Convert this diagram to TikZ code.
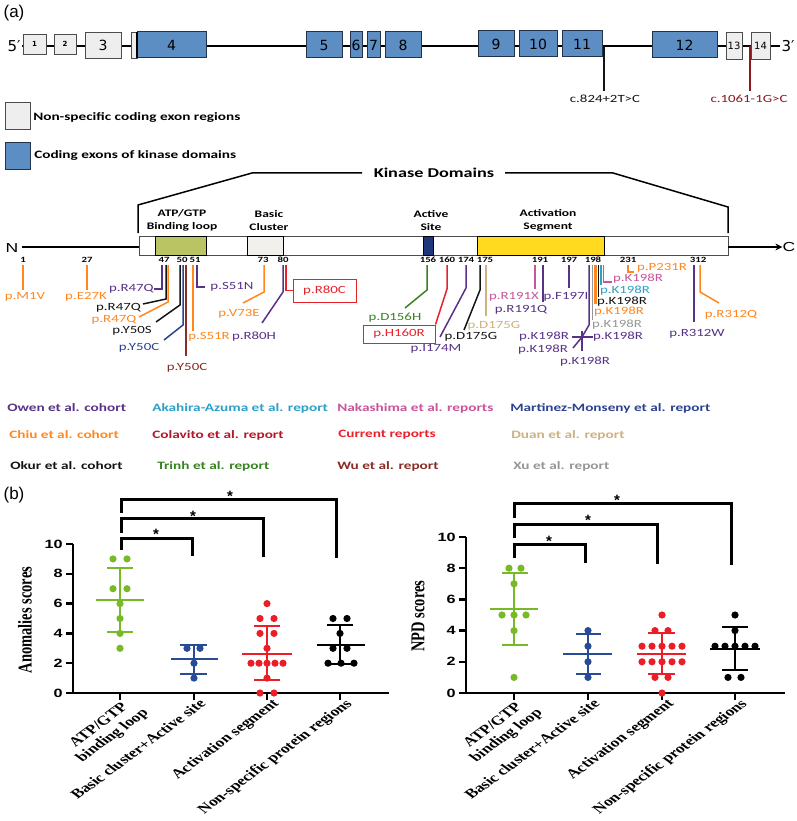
\documentclass[tikz,border=0pt]{standalone}
\usepackage{fontspec}
\setmainfont{Liberation Serif}
\newfontfamily\fCal{Carlito}
\newfontfamily\fArl{Liberation Sans}
\newfontfamily\fTms{Liberation Serif}
\newfontfamily\fDvs{DejaVu Sans}
\usetikzlibrary{arrows.meta}
\definecolor{cOwen}{RGB}{88,50,135}
\definecolor{cChiu}{RGB}{255,135,30}
\definecolor{cOkur}{RGB}{20,20,20}
\definecolor{cAka}{RGB}{45,160,200}
\definecolor{cCol}{RGB}{180,22,40}
\definecolor{cTri}{RGB}{55,130,35}
\definecolor{cNak}{RGB}{200,85,155}
\definecolor{cCur}{RGB}{232,33,43}
\definecolor{cWu}{RGB}{135,45,35}
\definecolor{cMar}{RGB}{44,66,145}
\definecolor{cDuan}{RGB}{205,178,125}
\definecolor{cXu}{RGB}{150,150,150}
\definecolor{cSplice}{RGB}{140,25,30}
\definecolor{exBlue}{RGB}{92,142,196}
\definecolor{exEdge}{RGB}{35,50,75}
\definecolor{exGray}{RGB}{238,238,238}
\definecolor{atpG}{RGB}{186,196,98}
\definecolor{actY}{RGB}{255,218,30}
\definecolor{actN}{RGB}{30,55,120}
\definecolor{basW}{RGB}{242,240,236}
\definecolor{pG}{RGB}{120,185,40}
\definecolor{pB}{RGB}{40,75,150}
\definecolor{pR}{RGB}{235,30,40}
\tikzset{
  sx/.style={xscale=1.35},
  exon/.style={draw=exEdge, fill=exBlue, line width=1pt, inner sep=0pt, minimum height=26pt, font=\fDvs\fontsize{14}{14}\selectfont},
  gexon/.style={draw=black!70, fill=exGray, line width=0.8pt, inner sep=0pt},
  mut/.style={font=\fCal\fontsize{11}{12}\selectfont, inner sep=0pt, sx},
  pnum/.style={font=\fCal\bfseries\fontsize{8}{9}\selectfont, inner sep=0pt, sx},
  ml/.style={line width=1.5pt},
  legt/.style={font=\fCal\bfseries\fontsize{11.3}{13}\selectfont, inner sep=0pt, anchor=west, sx},
  dom/.style={font=\fCal\bfseries\fontsize{10}{12.5}\selectfont, align=center, inner sep=0pt, sx},
  ticklab/.style={font=\fArl\bfseries\fontsize{12}{14}\selectfont, inner sep=0pt, anchor=east, sx},
  xlab/.style={font=\fTms\bfseries\fontsize{13}{14.5}\selectfont, inner sep=0.5pt, anchor=north east, align=center, sx, rotate=45},
  ylab/.style={font=\fTms\bfseries\fontsize{14.5}{16}\selectfont, inner sep=0pt, sx, rotate=90},
  brk/.style={line width=3pt},
  ax/.style={line width=2.8pt},
  starlab/.style={font=\fArl\bfseries\fontsize{15}{15}\selectfont, inner sep=0pt},
  pdot/.style={radius=3.6pt},
  ebar/.style={line width=2pt},
  panel/.style={font=\fArl\fontsize{17}{17}\selectfont, inner sep=0pt},
}
\begin{document}
\begin{tikzpicture}[x=1pt,y=-1pt]
\useasboundingbox (0,0) rectangle (796,821);
\fill[white] (0,0) rectangle (796,821);

% ---------- panel (a): gene ----------
\node[panel] (pa) at (14,13) {(a)};
\draw[line width=1.4pt] (22,46) -- (780,46);
\node[font=\fDvs\fontsize{15}{15}\selectfont, inner sep=0pt] (p5) at (14,46) {5′};
\node[font=\fDvs\fontsize{15}{15}\selectfont, inner sep=0pt] (p3) at (788,46) {3′};
\node[gexon, minimum width=23pt, minimum height=20pt, font=\fDvs\bfseries\fontsize{7}{7}\selectfont] (e1) at (34.5,44) {1};
\node[gexon, minimum width=22pt, minimum height=20pt, font=\fDvs\bfseries\fontsize{7}{7}\selectfont] (e2) at (65,44) {2};
\node[gexon, minimum width=36pt, minimum height=26pt, font=\fDvs\fontsize{14}{14}\selectfont] (e3) at (103,45) {3};
\node[gexon, minimum width=6pt, minimum height=26pt] (e4a) at (134,45) {};
\node[exon, minimum width=69pt] (e4) at (171.5,45) {4};
\draw[line width=2pt, black] (137,32) -- (137,58);
\node[exon, minimum width=36pt] (e5) at (324,45) {5};
\node[exon, minimum width=12pt] (e6) at (356,45) {6};
\node[exon, minimum width=13pt] (e7) at (373.5,45) {7};
\node[exon, minimum width=36pt] (e8) at (403,45) {8};
\node[exon, minimum width=36pt] (e9) at (496,44) {9};
\node[exon, minimum width=38pt] (e10) at (538,44) {10};
\node[exon, minimum width=40pt] (e11) at (582,44) {11};
\node[exon, minimum width=65pt] (e12) at (684.5,45) {12};
\node[gexon, minimum width=16pt, minimum height=27pt, font=\fDvs\fontsize{10}{10}\selectfont] (e13) at (734,45.5) {13};
\node[gexon, minimum width=19pt, minimum height=27pt, font=\fDvs\fontsize{10}{10}\selectfont] (e14) at (760.5,45.5) {14};
\node[mut, cOkur] (s1) at (605,99) {c.824+2T>C};
\node[mut, cSplice] (s2) at (749,99) {c.1061-1G>C};
\draw[line width=1.8pt, cOkur] (604,46) -- (604,91);
\draw[line width=1.8pt, cSplice] (750,46) -- (750,91);

% legend of exons
\node[gexon, minimum width=25pt, minimum height=27pt] (lg1) at (17.5,115.5) {};
\node[legt] (lg1t) at (33,117) {Non-specific coding exon regions};
\node[draw=exEdge, fill=exBlue, line width=1pt, minimum width=25pt, minimum height=27pt, inner sep=0pt] (lg2) at (17.5,156.5) {};
\node[legt] (lg2t) at (34,155) {Coding exons of kinase domains};

% ---------- protein ----------
\node[font=\fCal\bfseries\fontsize{13.5}{14}\selectfont, inner sep=0pt, sx] (kd) at (434,173) {Kinase Domains};
\draw[line width=1.5pt] (138,233) -- (138,205) -- (252,173) -- (362,173);
\draw[line width=1.5pt] (505,173) -- (613,173) -- (728,207) -- (728,233);
\node[font=\fArl\fontsize{13}{13}\selectfont, inner sep=0pt, sx] (nN) at (12,248) {N};
\draw[line width=1.5pt] (22,247) -- (139,247);
\draw[line width=0.8pt, draw=black!70, fill=white] (139,236) rectangle (728,255);
\draw[line width=1pt, fill=atpG] (155,236) rectangle (206,255);
\draw[line width=1pt, fill=basW] (247,236) rectangle (283,255);
\draw[line width=1pt, fill=actN] (423,236) rectangle (433,255);
\draw[line width=1pt, fill=actY] (477,236) rectangle (604,255);
\node[font=\fArl\fontsize{13}{13}\selectfont, inner sep=0pt, sx] (nC) at (789,247) {C};
\draw[line width=1.5pt, -{Stealth[length=7pt,width=7pt]}] (728,247) -- (nC.west);
\node[dom] (dA) at (182,220.5) {ATP/GTP\\Binding loop};
\node[dom] (dB) at (269,220.5) {Basic\\Cluster};
\node[dom] (dC) at (431,220.5) {Active\\Site};
\node[dom] (dD) at (548,220.5) {Activation\\Segment};
\foreach \p/\x in {1/23, 27/87, 47/164, 50/182, 51/195, 73/263, 80/283, 156/428, 160/447, 174/466, 175/485, 191/540, 197/569, 198/593, 231/628, 312/698}
  \node[pnum] (n\p) at (\x,259.5) {\p};

% mutations
\node[mut, cChiu] (m1) at (25,297) {p.M1V};
\draw[ml,cChiu] (23,265) -- (23,290);
\node[mut, cChiu] (m2) at (86,297) {p.E27K};
\draw[ml,cChiu] (87,265) -- (87,290);
\node[mut, cOwen, anchor=east] (m3) at (154,289) {p.R47Q};
\draw[ml,cOwen] (162,265) -- (162,289) -- (m3.east);
\node[mut, cOkur] (m4) at (118.5,308) {p.R47Q};
\draw[ml,cOkur] (166,265) -- (166,299) -- (143,304);
\node[mut, cChiu] (m5) at (114,320) {p.R47Q};
\draw[ml,cChiu] (168,265) -- (168,302) -- (139,317);
\node[mut, cOkur] (m6) at (132,331) {p.Y50S};
\draw[ml,cOkur] (180,265) -- (180,305) -- (156,322);
\node[mut, cMar] (m7) at (139,348) {p.Y50C};
\draw[ml,cMar] (183,265) -- (183,325) -- (164,340);
\node[mut, cWu] (m8) at (187,368) {p.Y50C};
\draw[ml,cWu] (186,265) -- (186,356);
\node[mut, cChiu] (m9) at (209,337) {p.S51R};
\draw[ml,cChiu] (193,265) -- (193,331);
\node[mut, cOwen] (m10) at (232,287) {p.S51N};
\draw[ml,cOwen] (197,265) -- (197,287) -- (205,287);
\node[mut, cChiu] (m11) at (239,314) {p.V73E};
\draw[ml,cChiu] (264,265) -- (264,292) -- (243,303);
\node[mut, cOwen] (m12) at (254,337) {p.R80H};
\draw[ml,cOwen] (283,265) -- (283,292) -- (262,323);
\node[draw=cCur, line width=1pt, minimum width=63pt, minimum height=23pt, inner sep=0pt] (b80) at (324.5,290.5) {};
\node[mut, cCur] (m13) at (b80.center) {p.R80C};
\draw[ml,cCur] (286,265) -- (286,290.5) -- (b80.west);
\node[mut, cTri] (m14) at (395,318) {p.D156H};
\draw[ml,cTri] (427,265) -- (427,290) -- (405,308);
\node[draw=cCur, line width=1pt, minimum width=72pt, minimum height=18pt, inner sep=0pt] (b160) at (399,334) {};
\node[mut, cCur] (m15) at (b160.center) {p.H160R};
\draw[ml,cCur] (447,265) -- (447,289) -- (b160.north east);
\node[mut, cOwen] (m16) at (436,349) {p.I174M};
\draw[ml,cOwen] (466,265) -- (466,288) -- (440,337);
\node[mut, cOkur] (m17) at (471,337) {p.D175G};
\draw[ml,cOkur] (480,265) -- (480,290) -- (464,330);
\node[mut, cDuan] (m18) at (494,326) {p.D175G};
\draw[ml,cDuan] (486,265) -- (486,316);
\node[mut, cNak] (m19) at (514,297) {p.R191X};
\draw[ml,cNak] (535,265) -- (535,289);
\node[mut, cOwen] (m20) at (521,310) {p.R191Q};
\draw[ml,cOwen] (543,265) -- (543,302);
\node[mut, cOwen] (m21) at (566,297) {p.F197I};
\draw[ml,cOwen] (569,265) -- (569,288);
\coordinate (kx) at (582,337);
\node[mut, cOwen] (m22) at (544,337) {p.K198R};
\node[mut, cOwen] (m23) at (618,337) {p.K198R};
\node[mut, cOwen] (m24) at (543,350) {p.K198R};
\node[mut, cOwen] (m25) at (585,362) {p.K198R};
\draw[ml,cOwen] (589,265) -- (589,325) -- (kx);
\draw[ml,cOwen] (572,337) -- (593,337);
\draw[ml,cOwen] (582,331) -- (582,351);
\draw[ml,cOwen] (kx) -- (573,348);
\node[mut, cXu] (m26) at (617,325) {p.K198R};
\draw[ml,cXu] (592.5,265) -- (592.5,320);
\node[mut, cChiu] (m27) at (619,312) {p.K198R};
\draw[cChiu, line width=2.2pt] (595.5,265) -- (595.5,304);
\node[mut, cOkur] (m28) at (622,302) {p.K198R};
\draw[ml,cOkur] (598.5,265) -- (598.5,297);
\node[mut, cAka] (m29) at (625,291) {p.K198R};
\draw[ml,cAka] (601,265) -- (601,285);
\node[mut, cNak] (m30) at (638,279) {p.K198R};
\draw[ml,cNak] (603.5,265) -- (603.5,282) -- (612,282);
\node[mut, cChiu] (m31) at (662,268) {p.P231R};
\draw[ml,cChiu] (628,265) -- (628,272) -- (634,272);
\node[mut, cOwen] (m32) at (697,334) {p.R312W};
\draw[ml,cOwen] (694,265) -- (694,322);
\node[mut, cChiu] (m33) at (731,315) {p.R312Q};
\draw[ml,cChiu] (700,265) -- (700,292) -- (719,303);

% cohort legend
\node[legt, cOwen] (l1) at (7,408) {Owen et al. cohort};
\node[legt, cAka] (l2) at (152,408) {Akahira-Azuma et al. report};
\node[legt, cNak] (l3) at (337,408) {Nakashima et al. reports};
\node[legt, cMar] (l4) at (510,408) {Martinez-Monseny et al. report};
\node[legt, cChiu] (l5) at (9,435) {Chiu et al. cohort};
\node[legt, cCol] (l6) at (152,435) {Colavito et al. report};
\node[legt, cCur] (l7) at (338,435) {Current reports};
\node[legt, cDuan] (l8) at (511,435) {Duan et al. report};
\node[legt, cOkur] (l9) at (10,466) {Okur et al. cohort};
\node[legt, cTri] (l10) at (157,466) {Trinh et al. report};
\node[legt, cWu] (l11) at (337,466) {Wu et al. report};
\node[legt, cXu] (l12) at (513,466) {Xu et al. report};

% ---------- panel (b) ----------
\node[panel] (pb) at (14,495) {(b)};

% left plot
\begin{scope}[shift={(0,693)}, y=14.9pt]
  \foreach \v in {0,2,...,10} {
    \draw[line width=2.5pt] (66,\v) -- (73,\v);
    \node[ticklab] (lt\v) at (63,\v) {\v};
  }
  \foreach \x in {120,194,267,340} \draw[line width=2.5pt] (\x,0) -- (\x,-0.5);
  \draw[ax] (73,10) -- (73,0) -- (389,0);
  % green
  \foreach \x/\v in {113/9,127/9,113/7,127/7,120/6,120/5,120/4,120/3} \fill[pG] (\x,\v) circle[pdot];
  \draw[pG, ebar] (96,6.25) -- (144,6.25) (107,8.4) -- (133,8.4) (107,4.1) -- (133,4.1) (120,4.1) -- (120,8.4);
  % blue
  \foreach \x/\v in {187/3,200/3,194/2,194/1} \fill[pB] (\x,\v) circle[pdot];
  \draw[pB, ebar] (171,2.25) -- (218,2.25) (180,3.2) -- (207,3.2) (180,1.3) -- (207,1.3) (194,1.3) -- (194,3.2);
  % red
  \foreach \x/\v in {267/6,260/5,274/5,260/4,274/4,267/3,251/2,259/2,267/2,275/2,283/2,267/1,260/0,274/0} \fill[pR] (\x,\v) circle[pdot];
  \draw[pR, ebar] (242,2.65) -- (292,2.65) (254,4.5) -- (280,4.5) (254,0.85) -- (280,0.85) (267,0.85) -- (267,4.5);
  % black
  \foreach \x/\v in {333/5,347/5,340/4,333/3,347/3,328/2,341/2,354/2} \fill[black] (\x,\v) circle[pdot];
  \draw[black, ebar] (317,3.25) -- (365,3.25) (327,4.55) -- (353,4.55) (327,1.95) -- (353,1.95) (340,1.95) -- (340,4.55);
\end{scope}
\node[ylab] (ly1) at (25,620) {Anomalies scores};
\node[xlab] (lx1) at (127,696) {ATP/GTP\\binding loop};
\node[xlab] (lx2) at (198,697) {Basic cluster+Active site};
\node[xlab] (lx3) at (271,697) {Activation segment};
\node[xlab] (lx4) at (344,697) {Non-specific protein regions};
\draw[brk] (121,550) -- (121,538) -- (192,538) -- (192,556);
\draw[brk] (121,533) -- (121,518) -- (263,518) -- (263,557);
\draw[brk] (121,513) -- (121,499) -- (336,499) -- (336,558);
\node[starlab] (st1) at (156,534) {*};
\node[starlab] (st2) at (193,516) {*};
\node[starlab] (st3) at (230,496) {*};

% right plot
\begin{scope}[shift={(0,693)}, y=15.6pt]
  \foreach \v in {0,2,...,10} {
    \draw[line width=2.5pt] (459,\v) -- (466,\v);
    \node[ticklab] (rt\v) at (456,\v) {\v};
  }
  \foreach \x in {514,588,662,735} \draw[line width=2.5pt] (\x,0) -- (\x,-0.48);
  \draw[ax] (466,10) -- (466,0) -- (785,0);
  % green
  \foreach \x/\v in {509/8,521/8,514/7,502/5,514/5,526/5,514/4,514/1} \fill[pG] (\x,\v) circle[pdot];
  \draw[pG, ebar] (490,5.4) -- (538,5.4) (502,7.7) -- (528,7.7) (502,3.05) -- (528,3.05) (514,3.05) -- (514,7.7);
  % blue
  \foreach \x/\v in {588/4,588/3,588/2,588/1} \fill[pB] (\x,\v) circle[pdot];
  \draw[pB, ebar] (563,2.5) -- (612,2.5) (576,3.8) -- (601,3.8) (576,1.2) -- (601,1.2) (588,1.2) -- (588,3.8);
  % red
  \foreach \x/\v in {662/5,655/4,668/4,642/3,652/3,662/3,672/3,682/3,642/2,652/2,662/2,672/2,682/2,655/1,668/1,662/0} \fill[pR] (\x,\v) circle[pdot];
  \draw[pR, ebar] (637,2.5) -- (686,2.5) (648,3.85) -- (675,3.85) (648,1.25) -- (675,1.25) (662,1.25) -- (662,3.85);
  % black
  \foreach \x/\v in {735/5,735/4,715/3,725/3,735/3,745/3,755/3,728/1,741/1} \fill[black] (\x,\v) circle[pdot];
  \draw[black, ebar] (710,2.85) -- (760,2.85) (722,4.2) -- (748,4.2) (722,1.5) -- (748,1.5) (735,1.5) -- (735,4.2);
\end{scope}
\node[ylab] (ly2) at (418,616) {NPD scores};
\node[xlab] (rx1) at (521,696) {ATP/GTP\\binding loop};
\node[xlab] (rx2) at (592,697) {Basic cluster+Active site};
\node[xlab] (rx3) at (666,697) {Activation segment};
\node[xlab] (rx4) at (739,697) {Non-specific protein regions};
\draw[brk] (514,558) -- (514,544) -- (585,544) -- (585,563);
\draw[brk] (514,538) -- (514,524) -- (657,524) -- (657,564);
\draw[brk] (514,518) -- (514,503) -- (731,503) -- (731,565);
\node[starlab] (st4) at (549,541) {*};
\node[starlab] (st5) at (588,520) {*};
\node[starlab] (st6) at (617,500) {*};
\end{tikzpicture}
\end{document}
